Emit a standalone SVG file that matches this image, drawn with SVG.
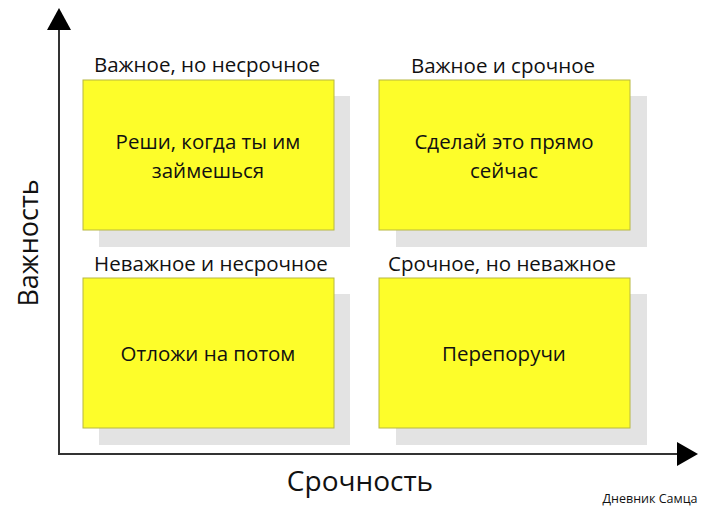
<svg xmlns="http://www.w3.org/2000/svg" width="713" height="518" viewBox="0 0 713 518">
<style>
text{font-family:"Open Sans","Liberation Sans",sans-serif;fill:#111;text-anchor:middle}
.sh{fill:#e3e3e3}
.bx{fill:#fdfd2a;stroke:#b8b840;stroke-width:1}
.t{font-size:20.5px}
.lab{font-size:20.5px}
</style>
<rect width="713" height="518" fill="#fff"/>
<g id="connectors">
<line x1="59" y1="454" x2="59" y2="22" stroke="#333" stroke-width="2"/>
<path d="M59,8 L47,30 L71,30 Z" fill="#000"/>
<line x1="58" y1="454" x2="684" y2="454" stroke="#333" stroke-width="2"/>
<path d="M698,454 L677,442 L677,466 Z" fill="#000"/>
</g>
<g id="q1">
<rect class="sh" x="99" y="96" width="251" height="151"/>
<rect class="bx" x="83" y="80" width="251" height="150"/>
<text class="lab" x="207" y="72">Важное, но несрочное</text>
<text class="t" x="208" y="149">Реши, когда ты им</text>
<text class="t" x="208" y="178">займешься</text>
</g>
<g id="q2">
<rect class="sh" x="396" y="96" width="251" height="151"/>
<rect class="bx" x="379" y="80" width="251" height="150"/>
<text class="lab" x="503" y="73">Важное и срочное</text>
<text class="t" x="504" y="149">Сделай это прямо</text>
<text class="t" x="504" y="178">сейчас</text>
</g>
<g id="q3">
<rect class="sh" x="99" y="294" width="251" height="151"/>
<rect class="bx" x="83" y="278" width="251" height="150"/>
<text class="lab" x="211" y="271">Неважное и несрочное</text>
<text class="t" x="208" y="361">Отложи на потом</text>
</g>
<g id="q4">
<rect class="sh" x="396" y="294" width="251" height="151"/>
<rect class="bx" x="379" y="278" width="251" height="150"/>
<text class="lab" x="502" y="271">Срочное, но неважное</text>
<text class="t" x="504" y="361">Перепоручи</text>
</g>
<text x="0" y="0" font-size="27" transform="translate(38,243) rotate(-90)">Важность</text>
<text x="360" y="491" font-size="28">Срочность</text>
<text x="650" y="503" font-size="12.5">Дневник Самца</text>
</svg>
